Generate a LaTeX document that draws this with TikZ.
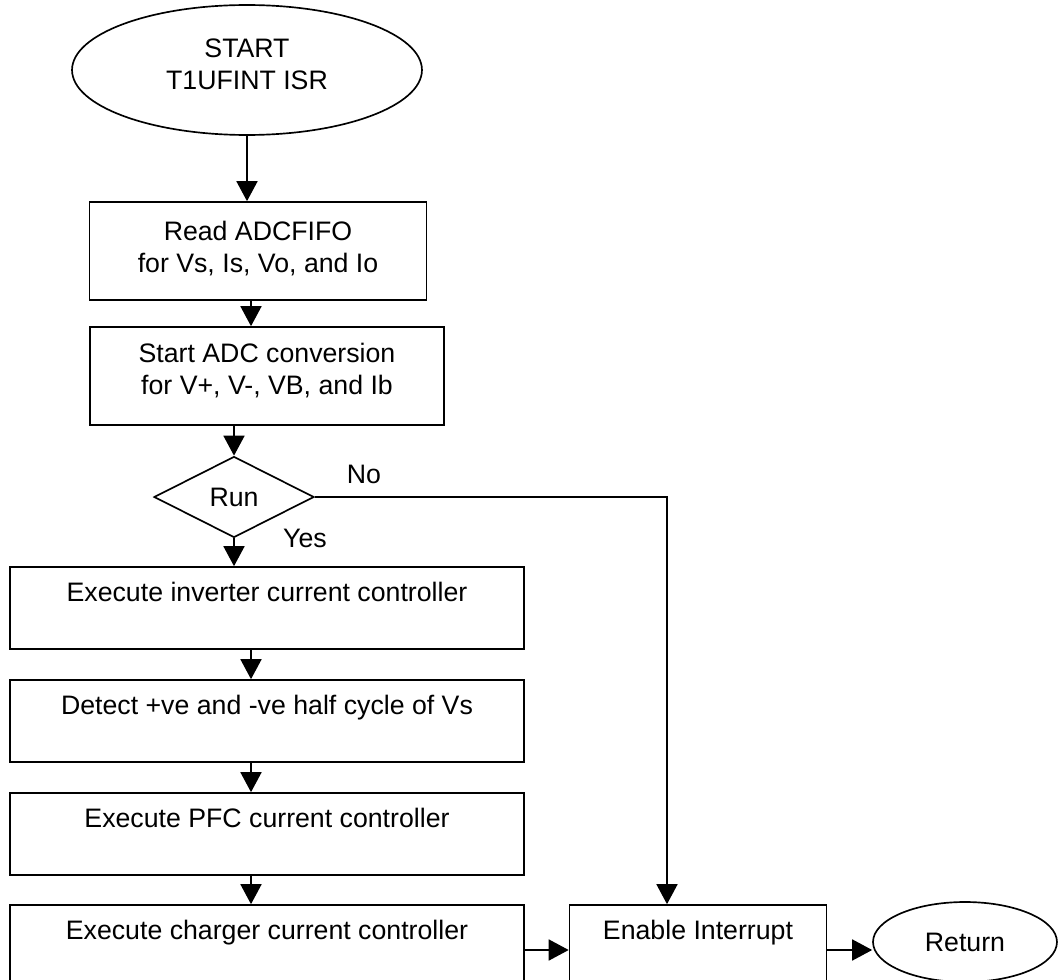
\documentclass[tikz,border=0pt]{standalone}
\usepackage{fontspec}
\setmainfont{Liberation Sans}
\usetikzlibrary{arrows.meta,shapes.geometric}
\tikzset{
  base/.style={draw, line width=0.95pt, align=center, inner sep=0pt, font=\fontsize{15.2}{18.4}\selectfont},
  kbox/.style={base, rectangle, minimum width=10.28cm, minimum height=1.64cm},
  kread/.style={base, rectangle, minimum width=6.74cm, minimum height=1.96cm},
  kadc/.style={base, rectangle, minimum width=7.08cm, minimum height=1.96cm},
  kenable/.style={base, rectangle, minimum width=5.14cm, minimum height=1.64cm},
  kterm/.style={base, ellipse},
  kdecision/.style={base, diamond, minimum width=3.2cm, minimum height=1.62cm},
  klabel/.style={font=\fontsize{15.2}{18.4}\selectfont, inner sep=0pt},
  flow/.style={-{Triangle[length=0.4cm, width=0.42cm]}, line width=0.95pt},
}

\begin{document}
\begin{tikzpicture}[x=0.02cm, y=-0.02cm]
    \useasboundingbox (0,0) rectangle (1059,980);
    \clip (0,0) rectangle (1059,980);
    \coordinate (spine) at (251,0);
    \coordinate (nox) at (667,0);
    \node[kterm, minimum width=7.0cm, minimum height=2.6cm] (start) at (247,70) {START\\T1UFINT ISR\\[-12pt]};
    \node[kread] (read) at (258,251) {Read ADCFIFO\\for Vs, Is, Vo, and Io\\[-14pt]};
    \node[kadc] (adc) at (267,376) {Start ADC conversion\\for V+, V-, VB, and Ib\\[-10pt]};
    \node[kdecision] (run) at (234,497) {Run};
    \node[klabel] (nolbl) at (364,474) {No};
    \node[klabel] (yeslbl) at (305,538) {Yes};
    \node[kbox] (inv) at (267,608) {Execute inverter current controller\\\mbox{}};
    \node[kbox] (detect) at (267,721) {Detect +ve and -ve half cycle of Vs\\\mbox{}};
    \node[kbox] (pfc) at (267,834) {Execute PFC current controller\\\mbox{}};
    \node[kbox] (charge) at (267,946) {Execute charger current controller\\\mbox{}};
    \node[kenable] (enable) at (698,946) {Enable Interrupt\\\mbox{}};
    \node[kterm, minimum width=3.68cm, minimum height=1.6cm] (ret) at (965,942) {Return};
    \draw[flow] (start.south) -- (start.south |- read.north);
    \draw[flow] (read.south -| spine) -- (adc.north -| spine);
    \draw[flow] (adc.south -| run.north) -- (run.north);
    \draw[flow] (run.south) -- (run.south |- inv.north);
    \draw[flow] (run.east) -- (run.east -| nox) -- (enable.north -| nox);
    \draw[flow] (inv.south -| spine) -- (detect.north -| spine);
    \draw[flow] (detect.south -| spine) -- (pfc.north -| spine);
    \draw[flow] (pfc.south -| spine) -- (charge.north -| spine);
    \draw[flow] ([yshift=-0.08cm]charge.east) -- ([yshift=-0.08cm]enable.west);
    \draw[flow] ([yshift=-0.08cm]enable.east) -- ([yshift=-0.08cm]enable.east -| ret.west);
  \end{tikzpicture}
\end{document}
